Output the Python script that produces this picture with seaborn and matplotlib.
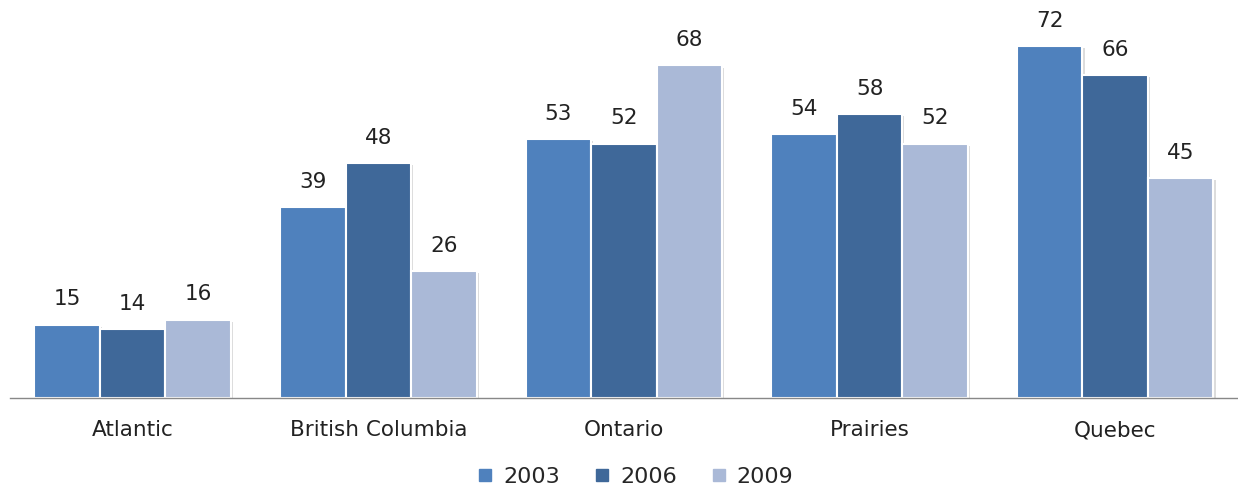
import pandas as pd
import matplotlib.pyplot as plt
import matplotlib.patheffects as pe
import seaborn as sns

regions = ["Atlantic", "British Columbia", "Ontario", "Prairies", "Quebec"]
years = ["2003", "2006", "2009"]
vals_2003 = [15, 39, 53, 54, 72]
vals_2006 = [14, 48, 52, 58, 66]
vals_2009 = [16, 26, 68, 52, 45]

rows = []
for yr, vals in zip(years, [vals_2003, vals_2006, vals_2009]):
    for reg, v in zip(regions, vals):
        rows.append({"Region": reg, "Year": yr, "Value": v})
df = pd.DataFrame(rows)

sns.set_theme(style="white")
plt.rcParams['font.family'] = ['DejaVu Sans']

palette = {"2003": "#4F81BD", "2006": "#3F6899", "2009": "#AAB9D7"}

fig = plt.figure(figsize=(12.38, 4.87), dpi=100)
ax = fig.add_axes([0.008, 0.183, 0.992, 0.803])
sns.barplot(data=df, x="Region", y="Value", hue="Year", palette=palette,
            width=0.8, edgecolor="white", linewidth=1.5, saturation=1,
            ax=ax, legend=False)

# faint drop shadow like the office chart
for p in ax.patches:
    p.set_path_effects([pe.SimplePatchShadow(offset=(1.5, -1.5), shadow_rgbFace="#bbbbbb", alpha=0.5), pe.Normal()])

for cont in ax.containers:
    ax.bar_label(cont, padding=11, fontsize=15.5, color="#222222")

ax.set_ylim(0, 80)
ax.set_xlim(-0.5, 4.5)
ax.set_xlabel("")
ax.set_ylabel("")
ax.set_yticks([])
for s in ["top", "right", "left"]:
    ax.spines[s].set_visible(False)
ax.spines["bottom"].set_color("#888888")
ax.spines["bottom"].set_linewidth(1)
ax.tick_params(axis="x", labelsize=15.5, colors="#222222", length=0, pad=16)

handles = [plt.Line2D([], [], marker="s", linestyle="", markersize=8,
                      color=palette[y]) for y in years]
fig.legend(handles, years, loc="center", ncol=3, frameon=False,
           fontsize=16, bbox_to_anchor=(0.512, 0.02), handletextpad=0.3,
           columnspacing=1.4, handlelength=1.0)

fig.savefig("out.png", dpi=100)
